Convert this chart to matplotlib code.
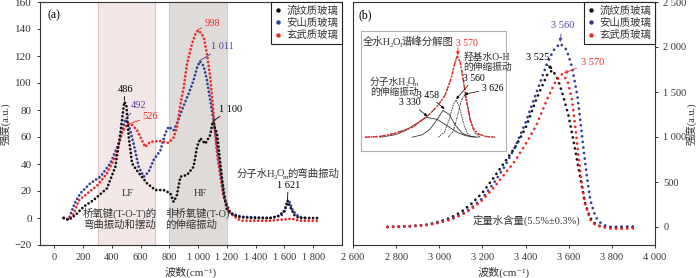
import matplotlib
matplotlib.use("Agg")
import matplotlib.pyplot as plt
from matplotlib.lines import Line2D
from matplotlib.ticker import FuncFormatter
from matplotlib.transforms import offset_copy

plt.rcParams['font.family'] = ['Liberation Serif', 'Noto Sans CJK SC', 'DejaVu Serif']
plt.rcParams['axes.unicode_minus'] = True

# ---- (a) Raman spectra ----
rhy_x = [65, 99, 146, 204, 273, 366, 424, 459, 486, 500, 517, 540, 575, 644, 702, 760, 806, 829,
         852, 876, 922, 968, 992, 1015, 1049, 1084, 1100, 1131, 1154, 1177, 1200, 1250, 1300, 1400,
         1500, 1550, 1600, 1621, 1640, 1670, 1700, 1800, 1840]
rhy_y = [0, -1.5, 2.2, 8.4, 13.3, 22, 38, 63, 86, 84, 60, 40.5, 35, 25.7, 20.7, 20.7, 18.3, 12,
         17, 30.6, 31.8, 38, 52.8, 59, 55, 61.5, 71, 62.7, 40.5, 18.3, 6, 2, 0.5, 0,
         0, 1, 5, 13, 8, 2, 0, 0, 0]

and_x = [65, 99, 146, 181, 250, 320, 389, 447, 492, 517, 551, 586, 621, 655, 690, 737, 771, 794,
         829, 852, 887, 933, 968, 992, 1011, 1038, 1061, 1084, 1107, 1131, 1165, 1189, 1224, 1300,
         1500, 1580, 1620, 1635, 1660, 1700, 1750]
and_y = [0, -1, 12, 18.3, 25.7, 30.6, 40.5, 55, 73, 69, 55, 38, 30.6, 34, 43, 50, 62.7, 67.6,
         65, 70, 80, 92, 102, 111.5, 116, 112.6, 102, 87, 72.5, 53, 28, 13, 3.5, 1,
         0, 2, 10, 12, 5, 1, 0]

bas_x = [65, 99, 134, 169, 227, 297, 366, 424, 470, 505, 526, 540, 575, 609, 632, 667, 737, 794,
         829, 852, 876, 899, 922, 957, 980, 998, 1020, 1038, 1061, 1084, 1107, 1131, 1154, 1177,
         1212, 1270, 1300, 1500, 1600, 1650, 1700, 1800, 1840]
bas_y = [0, -1, 3, 13, 18, 24, 33, 45.5, 63, 69.5, 70, 69, 65, 57.5, 52.6, 56.5, 57, 55.7,
         59.5, 67, 84, 96.5, 114, 129, 136, 139, 137, 134, 121.7, 104, 77, 47.5, 30.6, 15.6,
         4.5, -0.4, -2, -2, -1, -0.5, -2, -2, -2]

# ---- (b) IR spectra ----
ir_rhy_x = [2760, 2800, 2850, 2900, 2950, 3000, 3050, 3100, 3150, 3200, 3250, 3300, 3350, 3400,
            3450, 3500, 3525, 3550, 3575, 3600, 3625, 3650, 3675, 3700, 3725, 3750, 3800, 3850, 3900]
ir_rhy_y = [0, 3, 8, 15, 28, 60, 100, 165, 260, 380, 540, 710, 880, 1100,
            1420, 1690, 1744, 1640, 1450, 1230, 920, 600, 270, 100, 30, 5, -5, -5, 0]

ir_and_x = [2760, 2800, 2850, 2900, 2950, 3000, 3050, 3100, 3150, 3200, 3250, 3300, 3350, 3400,
            3450, 3500, 3530, 3560, 3590, 3615, 3640, 3655, 3670, 3685, 3700, 3725, 3750, 3775,
            3800, 3850, 3900]
ir_and_y = [0, 3, 7, 14, 25, 50, 85, 140, 215, 320, 480, 660, 880, 1160,
            1490, 1820, 1965, 2040, 1970, 1780, 1460, 1160, 840, 550, 300, 110, 40, 10,
            0, 5, 5]

ir_bas_x = [2760, 2800, 2850, 2900, 2950, 3000, 3050, 3100, 3150, 3200, 3250, 3300, 3350, 3400,
            3450, 3500, 3540, 3570, 3595, 3615, 3630, 3645, 3660, 3675, 3700, 3725, 3750, 3800,
            3850, 3900]
ir_bas_y = [0, 2, 6, 12, 24, 48, 80, 130, 200, 300, 430, 580, 730, 920,
            1130, 1420, 1620, 1700, 1620, 1420, 1120, 790, 490, 270, 80, 20, 5, -20,
            -20, -15]

# ---- inset: total water peak deconvolution ----
env_x = [2852, 2969, 3086, 3219, 3344, 3414, 3476, 3523, 3554, 3570, 3593, 3617, 3648, 3671,
         3695, 3734, 3788, 3866]
env_y = [0, 0.01, 0.05, 0.12, 0.27, 0.38, 0.52, 0.73, 0.93, 1.0, 0.93, 0.70, 0.40, 0.21,
         0.11, 0.04, 0.01, 0]
c3330_x = [2969, 3086, 3164, 3242, 3330, 3414, 3492, 3570, 3632, 3710]
c3330_y = [0, 0.03, 0.08, 0.16, 0.245, 0.22, 0.14, 0.06, 0.02, 0]
c3458_x = [3219, 3297, 3359, 3414, 3458, 3508, 3554, 3609, 3671, 3734]
c3458_y = [0, 0.03, 0.10, 0.22, 0.33, 0.28, 0.15, 0.05, 0.01, 0]
c3560_x = [3422, 3469, 3508, 3539, 3560, 3586, 3617, 3648, 3687]
c3560_y = [0, 0.06, 0.22, 0.40, 0.46, 0.38, 0.18, 0.05, 0]
c3626_x = [3500, 3539, 3570, 3601, 3626, 3648, 3671, 3703, 3749]
c3626_y = [0, 0.07, 0.25, 0.45, 0.52, 0.42, 0.22, 0.06, 0]

labels = ['流纹质玻璃', '安山质玻璃', '玄武质玻璃']
colors = ['#111111', '#2e3d96', '#f02828']
purple = '#5a3e9e'
txt = '#333333'


def spaced(v, pos):
    s = f"{int(round(v)):,}".replace(',', ' ')
    return s.replace('-', '\u2212')


def style_axes(ax):
    for sp in ax.spines.values():
        sp.set_linewidth(0.8)
        sp.set_color('#333333')
    ax.tick_params(direction='out', length=2.5, width=0.7, colors='#333333', labelsize=7.5)


def dots(ax, x, y, c, gap):
    ax.plot(x, y, color=c, lw=2.0, linestyle=(0, (0.01, gap)), dash_capstyle='round')


fig = plt.figure(figsize=(7, 2.78), dpi=100)
renderer = fig.canvas.get_renderer()


def rich(ax, x, y, parts, size, color=txt, ha='center', transform=None):
    """Text with subscripts: parts is a list of (string, is_subscript)."""
    base = transform if transform is not None else ax.transData
    px = size * fig.dpi / 72.0
    items = []
    cur = 0.0
    for s, sub in parts:
        fs = size * 0.68 if sub else size
        dy = -0.33 * px - (0.2 * px if sub else 0)
        t = ax.text(x, y, s, fontsize=fs, color=color, ha='left', va='baseline',
                    transform=offset_copy(base, fig, x=cur, y=dy, units='dots'))
        w = t.get_window_extent(renderer).width
        items.append((t, cur, dy))
        cur += w - 1.2
    shift = {'left': 0.0, 'center': cur / 2.0, 'right': cur}[ha]
    for t, dx, dy in items:
        t.set_transform(offset_copy(base, fig, x=dx - shift, y=dy, units='dots'))


ax1 = fig.add_axes([40 / 700, 33 / 278, 302 / 700, 243 / 278])
ax2 = fig.add_axes([353 / 700, 33 / 278, 302 / 700, 243 / 278])

# ---------- panel (a) ----------
ax1.axvspan(300, 700, facecolor='#f3e6e6', edgecolor='#dcc4c4', lw=0.8, zorder=0)
ax1.axvspan(800, 1200, facecolor='#dedbd8', edgecolor='#cfcbc7', lw=0.8, zorder=0)
dots(ax1, and_x, and_y, colors[1], 1.4)
dots(ax1, bas_x, bas_y, colors[2], 1.4)
dots(ax1, rhy_x, rhy_y, colors[0], 1.4)
ax1.set_xlim(-100, 2000)
ax1.set_ylim(-20, 160)
ax1.set_xticks(range(0, 1801, 200))
ax1.set_yticks(range(-20, 161, 20))
ax1.xaxis.set_major_formatter(FuncFormatter(spaced))
ax1.yaxis.set_major_formatter(FuncFormatter(spaced))
style_axes(ax1)
ax1.tick_params(axis='y', labelsize=8)
ax1.set_xlabel('波数(cm⁻¹)', fontsize=8, color=txt, va='top')
ax1.xaxis.set_label_coords(0.5, -0.088)
ax1.set_ylabel('强度(a.u.)', fontsize=7.5, color=txt)
ax1.yaxis.set_label_coords(-0.095, 0.5)
ax1.text(0.025, 0.945, '(a)', transform=ax1.transAxes, fontsize=8.5, va='center')

line = dict(arrowstyle='-', lw=0.6, shrinkA=0, shrinkB=0)
ax1.annotate('486', xy=(486, 87), xytext=(493, 95.5), fontsize=7.5, ha='center', va='center',
             arrowprops=dict(line, color='black'))
ax1.annotate('492', xy=(492, 73.5), xytext=(584, 83), fontsize=7.5, ha='center', va='center',
             color=purple, arrowprops=dict(line, color=purple))
ax1.annotate('526', xy=(526, 70), xytext=(667, 75), fontsize=7.5, ha='center', va='center',
             color=colors[2], arrowprops=dict(line, color=colors[2]))
ax1.annotate('998', xy=(998, 139.5), xytext=(1098, 144.4), fontsize=7.5, ha='center', va='center',
             color=colors[2], arrowprops=dict(line, color=colors[2]))
ax1.annotate('1 011', xy=(1011, 116.5), xytext=(1167, 126.7), fontsize=7.5, ha='center',
             va='center', color=purple, arrowprops=dict(line, color=purple))
ax1.annotate('1 100', xy=(1100, 71.5), xytext=(1223, 80.7), fontsize=7.5, ha='center',
             va='center', arrowprops=dict(line, color='black'))
ax1.annotate('1 621', xy=(1621, 13.5), xytext=(1626, 24.4), fontsize=7.5, ha='center',
             va='center', arrowprops=dict(line, color='black'))
rich(ax1, 1619, 33.3, [('分子水H', False), ('2', True), ('O', False), ('m', True),
                       ('的弯曲振动', False)], 7.5)
ax1.text(507, 18.5, 'LF', fontsize=7.5, ha='center', va='center', color=txt)
ax1.text(1015, 18.5, 'HF', fontsize=7.5, ha='center', va='center', color=txt)
ax1.text(452, -0.4, '桥氧键(T-O-T)的\n弯曲振动和摆动', fontsize=7.5, ha='center', va='center',
         color=txt, linespacing=1.05)
ax1.text(771, -0.4, '非桥氧键(T-O)\n的伸缩振动', fontsize=7.5, ha='left', va='center',
         color=txt, linespacing=1.05, multialignment='left')

handles = [Line2D([], [], ls='none', marker='o', ms=2.2, color=c) for c in colors]
leg_kw = dict(loc='upper right', bbox_to_anchor=(1, 1), borderaxespad=0, fancybox=False,
              edgecolor='#222222', framealpha=1, handlelength=0.6, handletextpad=0.5,
              labelspacing=0.2, borderpad=0.35, fontsize=7.5, labelcolor=txt)
leg1 = ax1.legend(handles, labels, **leg_kw)
leg1.get_frame().set_linewidth(0.8)

# ---------- panel (b) ----------
dots(ax2, ir_rhy_x, ir_rhy_y, colors[0], 2.0)
dots(ax2, ir_and_x, ir_and_y, colors[1], 2.0)
dots(ax2, ir_bas_x, ir_bas_y, colors[2], 2.0)
ax2.set_xlim(2600, 4000)
ax2.set_ylim(-200, 2500)
ax2.set_xticks(range(2600, 4001, 200))
ax2.set_yticks(range(0, 2501, 500))
ax2.xaxis.set_major_formatter(FuncFormatter(spaced))
ax2.yaxis.set_major_formatter(FuncFormatter(spaced))
ax2.yaxis.tick_right()
ax2.yaxis.set_label_position('right')
style_axes(ax2)
ax2.set_xlabel('波数(cm⁻¹)', fontsize=8, color=txt, va='top')
ax2.xaxis.set_label_coords(0.5, -0.088)
ax2.set_ylabel('强度(a.u.)', fontsize=7.5, color=txt, rotation=90)
ax2.yaxis.set_label_coords(1.104, 0.5)
ax2.text(0.017, 0.947, '(b)', transform=ax2.transAxes, fontsize=8.5, va='center')

head = dict(arrowstyle='-|>', lw=0.6, mutation_scale=5, shrinkA=1, shrinkB=0)
ax2.annotate('3 560', xy=(3560, 2055), xytext=(3570, 2243), fontsize=7.5, ha='center',
             va='center', color=purple, arrowprops=dict(head, color=purple))
ax2.annotate('3 525', xy=(3525, 1755), xytext=(3454, 1888), fontsize=7.5, ha='center',
             va='center', arrowprops=dict(head, color='black'))
ax2.annotate('3 570', xy=(3578, 1710), xytext=(3709, 1832), fontsize=7.5, ha='center',
             va='center', color=colors[2], arrowprops=dict(head, color=colors[2]))
ax2.text(3405, 70, '定量水含量(5.5%±0.3%)', fontsize=7.5, ha='center', va='center', color=txt)

leg2 = ax2.legend(handles, labels, **leg_kw)
leg2.get_frame().set_linewidth(0.8)

# ---------- inset ----------
axi = fig.add_axes([361 / 700, 127 / 278, 145 / 700, 120 / 278])
axi.set_xlim(2820, 3950)
axi.set_ylim(-0.17, 1.31)
axi.set_xticks([])
axi.set_yticks([])
for sp in axi.spines.values():
    sp.set_color('#b0b0b0')
    sp.set_linewidth(0.8)
axi.plot(env_x, env_y, color='#444444', lw=1.0, ls=':')
axi.plot(c3330_x, c3330_y, color='#333333', lw=0.6)
axi.plot(c3458_x, c3458_y, color='#333333', lw=0.6)
axi.plot(c3560_x, c3560_y, color='#333333', lw=0.6, ls=(0, (2, 1)))
axi.plot(c3626_x, c3626_y, color='#333333', lw=0.6, ls=(0, (3, 1, 1, 1)))
axi.plot(env_x, env_y, color=colors[2], lw=1.0, ls=(0, (3, 1, 1, 1)))

rich(axi, 0.015, 0.91, [('全水H', False), ('2', True), ('O', False), ('T', True),
                        ('谱峰分解图', False)], 7.5, ha='left', transform=axi.transAxes)
axi.text(3648, 1.16, '3 570', fontsize=7, ha='center', va='center', color=colors[2])
axi.annotate('', xy=(3575, 1.01), xytext=(3575, 1.12),
             arrowprops=dict(head, color=colors[2]))
axi.text(3617, 0.93, '羟基水O-H\n的伸缩振动', fontsize=7, ha='left', va='center', color=txt,
         linespacing=1.0)
rich(axi, 2891, 0.69, [('分子水H', False), ('2', True), ('O', False), ('m', True)], 7,
     ha='left')
axi.text(2891, 0.56, '的伸缩振动', fontsize=7, ha='left', va='center', color=txt)
ia = dict(arrowstyle='-|>', lw=0.5, mutation_scale=4, shrinkA=0, shrinkB=0, color='black')
axi.annotate('3 560', xy=(3562, 0.47), xytext=(3703, 0.73), fontsize=7, ha='center',
             va='center', arrowprops=ia)
axi.annotate('3 626', xy=(3626, 0.53), xytext=(3843, 0.60), fontsize=7, ha='center',
             va='center', arrowprops=ia)
axi.annotate('3 458', xy=(3470, 0.35), xytext=(3344, 0.52), fontsize=7, ha='center',
             va='center', arrowprops=ia)
axi.annotate('3 330', xy=(3336, 0.26), xytext=(3203, 0.43), fontsize=7, ha='center',
             va='center', arrowprops=ia)

fig.savefig('out.png', dpi=100)
